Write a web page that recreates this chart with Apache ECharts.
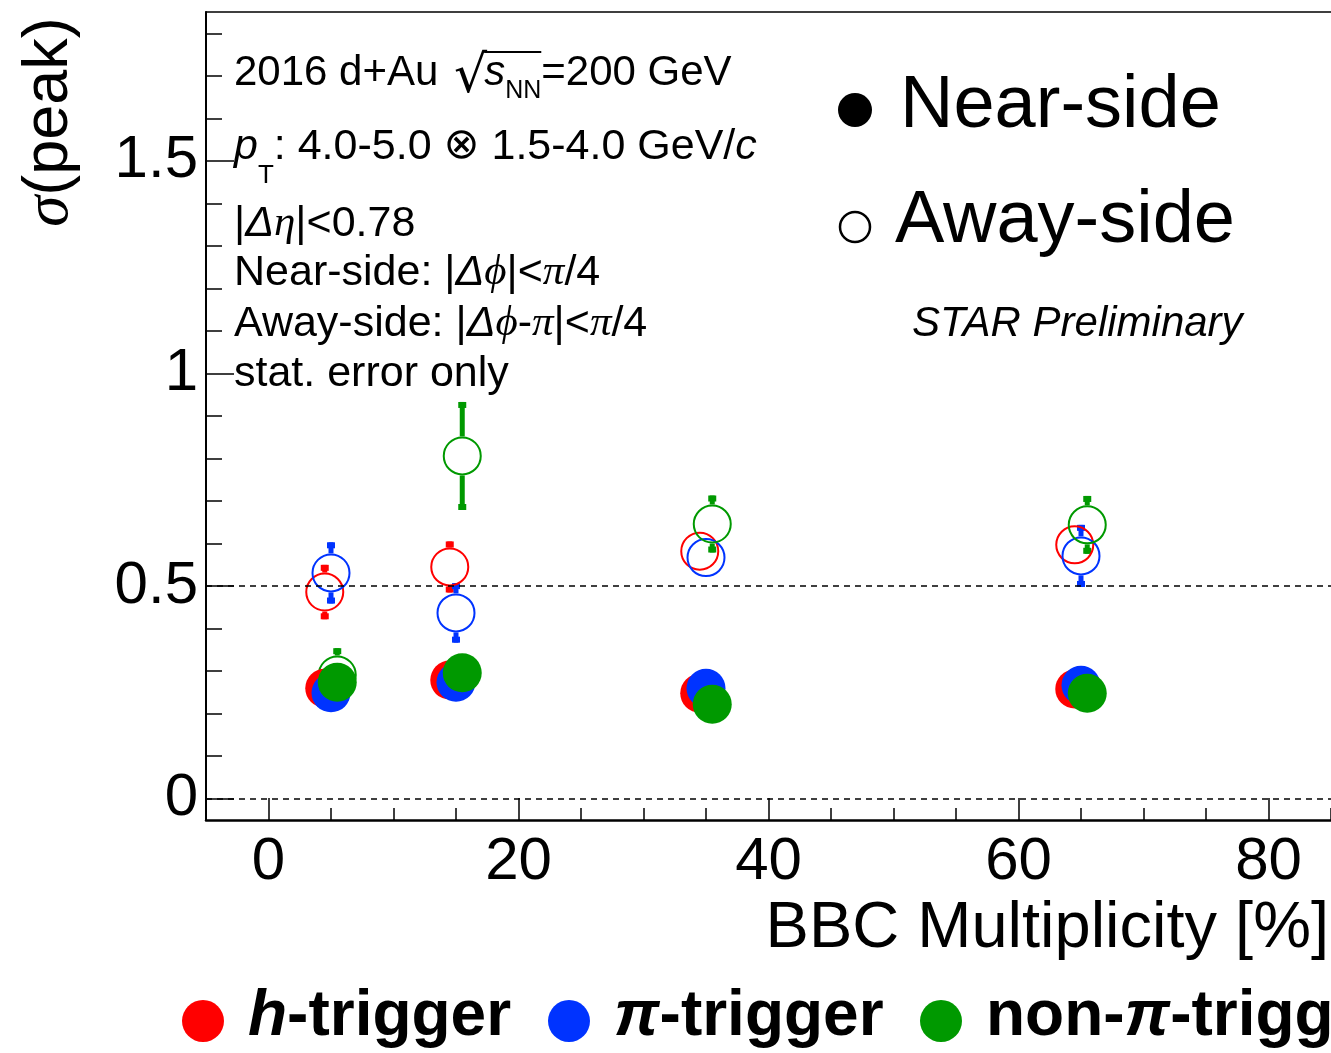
<!DOCTYPE html>
<html>
<head>
<meta charset="utf-8">
<title>σ(peak) vs BBC Multiplicity</title>
<script src="https://cdn.jsdelivr.net/npm/echarts@6/dist/echarts.min.js"></script>
<style>
  html, body { margin: 0; padding: 0; background: #ffffff; }
  #chart { width: 1331px; height: 1053px; }
</style>
</head>
<body>
<div id="chart"></div>
<script>
// ---- data -----------------------------------------------------------------
// BBC multiplicity bin centres (%), each trigger species nudged sideways
const hX     = [4.5, 14.5, 34.5, 64.5];
const piX    = [5.0, 15.0, 35.0, 65.0];
const nonPiX = [5.5, 15.5, 35.5, 65.5];

// Near-side peak width and stat. error
const hNear        = [0.260, 0.279, 0.248, 0.258];
const hNearErr     = [0.012, 0.012, 0.012, 0.012];
const piNear       = [0.249, 0.274, 0.260, 0.267];
const piNearErr    = [0.012, 0.012, 0.012, 0.012];
const nonPiNear    = [0.274, 0.296, 0.222, 0.248];
const nonPiNearErr = [0.015, 0.015, 0.015, 0.015];

// Away-side peak width and stat. error
const hAway        = [0.486, 0.545, 0.582, 0.597];
const hAwayErr     = [0.064, 0.060, 0.035, 0.035];
const piAway       = [0.531, 0.437, 0.567, 0.571];
const piAwayErr    = [0.072, 0.070, 0.035, 0.073];
const nonPiAway    = [0.291, 0.806, 0.646, 0.644];
const nonPiAwayErr = [0.063, 0.127, 0.067, 0.068];

// Axis ticks
const xMajorTicks = [0, 20, 40, 60, 80];
const xMinorTicks = [5, 10, 15, 25, 30, 35, 45, 50, 55, 65, 70, 75, 85];
const yMajorTicks = [0, 0.5, 1, 1.5];
const yMinorTicks = [0.1, 0.2, 0.3, 0.4, 0.6, 0.7, 0.8, 0.9, 1.1, 1.2, 1.3, 1.4, 1.6, 1.7, 1.8];
const refLines    = [0, 0.5];

// ---- styling --------------------------------------------------------------
const SANS  = '"Liberation Sans", Arial, Helvetica, sans-serif';
const SERIF = '"Liberation Serif", "DejaVu Serif", "Times New Roman", serif';
const SYM   = '"DejaVu Sans", "Liberation Sans", sans-serif';
const RED = '#ff0000', BLUE = '#0033ff', GREEN = '#009900';
const MARK = 39;            // marker diameter, px
const MARK_R = MARK / 2;

const species = [
  { x: hX,     near: hNear,     nearErr: hNearErr,     away: hAway,     awayErr: hAwayErr,     color: RED },
  { x: piX,    near: piNear,    nearErr: piNearErr,    away: piAway,    awayErr: piAwayErr,    color: BLUE },
  { x: nonPiX, near: nonPiNear, nearErr: nonPiNearErr, away: nonPiAway, awayErr: nonPiAwayErr, color: GREEN }
];

// vertical error bar drawn outside the marker, with small end caps
function errorBar(color) {
  return function (params, api) {
    const x = api.value(0), y = api.value(1), e = api.value(2);
    const c = api.coord([x, y]);
    const hi = api.coord([x, y + e]);
    const lo = api.coord([x, y - e]);
    const w = 5, capW = 8, capH = 6;
    const kids = [];
    if (c[1] - hi[1] > MARK_R) {
      kids.push({ type: 'rect', shape: { x: c[0] - w / 2, y: hi[1], width: w, height: c[1] - MARK_R - hi[1] }, style: { fill: color } });
      kids.push({ type: 'rect', shape: { x: c[0] - capW / 2, y: hi[1], width: capW, height: capH }, style: { fill: color } });
    }
    if (lo[1] - c[1] > MARK_R) {
      kids.push({ type: 'rect', shape: { x: c[0] - w / 2, y: c[1] + MARK_R, width: w, height: lo[1] - c[1] - MARK_R }, style: { fill: color } });
      kids.push({ type: 'rect', shape: { x: c[0] - capW / 2, y: lo[1] - capH, width: capW, height: capH }, style: { fill: color } });
    }
    return { type: 'group', children: kids };
  };
}

function rows(xs, ys, es) { return xs.map((x, i) => [x, ys[i], es[i]]); }

const series = [];
// away-side: open markers
species.forEach(s => {
  series.push({ type: 'custom', renderItem: errorBar(s.color), data: rows(s.x, s.away, s.awayErr), encode: { x: 0, y: 1 }, silent: true });
  series.push({ type: 'scatter', symbol: 'circle', symbolSize: MARK - 2, data: rows(s.x, s.away, s.awayErr),
    itemStyle: { color: 'rgba(0,0,0,0)', borderColor: s.color, borderWidth: 2, opacity: 1 }, silent: true });
});
// near-side: filled markers
species.forEach(s => {
  series.push({ type: 'custom', renderItem: errorBar(s.color), data: rows(s.x, s.near, s.nearErr), encode: { x: 0, y: 1 }, silent: true });
  series.push({ type: 'scatter', symbol: 'circle', symbolSize: MARK, data: rows(s.x, s.near, s.nearErr),
    itemStyle: { color: s.color, opacity: 1 }, silent: true });
});
// dashed reference lines
series[1].markLine = {
  silent: true, symbol: ['none', 'none'], label: { show: false },
  lineStyle: { color: '#000', type: [6, 5], width: 1.5 },
  data: refLines.map(v => ({ yAxis: v }))
};

// ---- text helpers ---------------------------------------------------------
const meas = document.createElement('canvas').getContext('2d');
// lays out a row of differently styled pieces on a common baseline
function textRun(x, baseline, parts) {
  const els = [], xs = [];
  let cx = x;
  parts.forEach(p => {
    const size = p.size, fam = p.family || SANS;
    const st = p.italic ? 'italic' : 'normal', wt = p.bold ? 'bold' : 'normal';
    meas.font = st + ' ' + wt + ' ' + size + 'px ' + fam;
    const w = meas.measureText(p.t).width;
    xs.push([cx, cx + w]);
    els.push({ type: 'text', x: cx, y: baseline + (p.dy || 0) - 0.35 * size, silent: true,
      style: { text: p.t, fontSize: size, fontFamily: fam, fontStyle: st, fontWeight: wt, fill: p.fill || '#000', align: 'left', verticalAlign: 'middle' } });
    cx += w + (p.gap || 0);
  });
  return { els, xs };
}

const F = 43;
const graphics = [];

const l1 = textRun(234, 88, [
  { t: '2016 d+Au ', size: 42, gap: 4 },
  { t: '√', size: 52, family: SYM, dy: 9, gap: -3 },
  { t: 's', size: 42, italic: true },
  { t: 'NN', size: 25, dy: 12 },
  { t: '=200 GeV', size: 42 }
]);
graphics.push(...l1.els);
graphics.push({ type: 'line', silent: true, shape: { x1: l1.xs[1][1] - 3, y1: 52, x2: l1.xs[3][1], y2: 52 }, style: { stroke: '#000', lineWidth: 2 } });

graphics.push(...textRun(234, 162, [
  { t: 'p', size: F, italic: true },
  { t: 'T', size: 26, dy: 23 },
  { t: ': 4.0-5.0 ', size: F },
  { t: '⊗', size: F, family: SYM },
  { t: ' 1.5-4.0 GeV/', size: F },
  { t: 'c', size: F, italic: true }
]).els);

graphics.push(...textRun(234, 239, [
  { t: '|', size: F },
  { t: 'Δ', size: F, italic: true },
  { t: 'η', size: F, italic: true, family: SERIF },
  { t: '|<0.78', size: F }
]).els);

graphics.push(...textRun(234, 288, [
  { t: 'Near-side: |', size: F },
  { t: 'Δ', size: F, italic: true },
  { t: 'ϕ', size: F, italic: true, family: SERIF },
  { t: '|<', size: F },
  { t: 'π', size: F, italic: true, family: SERIF },
  { t: '/4', size: F }
]).els);

graphics.push(...textRun(234, 339, [
  { t: 'Away-side: |', size: F },
  { t: 'Δ', size: F, italic: true },
  { t: 'ϕ', size: F, italic: true, family: SERIF },
  { t: '-', size: F },
  { t: 'π', size: F, italic: true, family: SERIF },
  { t: '|<', size: F },
  { t: 'π', size: F, italic: true, family: SERIF },
  { t: '/4', size: F }
]).els);

graphics.push(...textRun(234, 389, [{ t: 'stat. error only', size: F }]).els);

// side legend
graphics.push({ type: 'circle', silent: true, shape: { cx: 855, cy: 110, r: 17 }, style: { fill: '#000' } });
graphics.push({ type: 'circle', silent: true, shape: { cx: 855, cy: 227, r: 15 }, style: { fill: 'none', stroke: '#000', lineWidth: 2.5 } });
graphics.push(...textRun(900, 132, [{ t: 'Near-side', size: 74 }]).els);
graphics.push(...textRun(895, 247, [{ t: 'Away-side', size: 74 }]).els);
graphics.push(...textRun(912, 339, [{ t: 'STAR Preliminary', size: 42, italic: true }]).els);

// trigger legend
const LG = 64;
[[203, RED, [{ t: 'h', italic: true }, { t: '-trigger' }]],
 [569, BLUE, [{ t: 'π', italic: true }, { t: '-trigger' }]],
 [941, GREEN, [{ t: 'non-' }, { t: 'π', italic: true }, { t: '-trigger' }]]
].forEach(([cx, col, parts]) => {
  graphics.push({ type: 'circle', silent: true, shape: { cx: cx, cy: 1021, r: 21 }, style: { fill: col } });
  graphics.push(...textRun(cx + 45, 1040, parts.map(p => Object.assign({ size: LG, bold: true }, p))).els);
});

// axis titles
graphics.push({ type: 'text', silent: true, x: 1329, y: 952 - 0.35 * 65,
  style: { text: 'BBC Multiplicity [%]', fontSize: 65, fontFamily: SANS, fill: '#000', align: 'right', verticalAlign: 'middle' } });
graphics.push({ type: 'text', silent: true, x: 50, y: 122, rotation: Math.PI / 2,
  style: { text: '{g|σ}(peak)', fontSize: 63, fontFamily: SANS, fill: '#000', align: 'center', verticalAlign: 'middle',
    rich: { g: { fontSize: 63, fontFamily: SERIF, fontStyle: 'italic' } } } });

// ---- chart ----------------------------------------------------------------
const chart = echarts.init(document.getElementById('chart'), null, { renderer: 'canvas' });
const X_MIN = -5, X_MAX = 85, Y_MIN = -0.05, Y_MAX = 1.85;

chart.setOption({
  animation: false,
  backgroundColor: '#ffffff',
  grid: { left: 206, right: 0, top: 12, bottom: 233, containLabel: false },
  xAxis: [
    { type: 'value', min: X_MIN, max: X_MAX, position: 'bottom',
      axisLine: { show: true, onZero: false, lineStyle: { color: '#000', width: 2.5 } },
      axisTick: { show: true, inside: true, length: 22, customValues: xMajorTicks, lineStyle: { color: '#000', width: 1.5 } },
      axisLabel: { show: true, customValues: xMajorTicks, fontSize: 60, fontFamily: SANS, color: '#000', margin: 12 },
      splitLine: { show: false } },
    { type: 'value', min: X_MIN, max: X_MAX, position: 'bottom',
      axisLine: { show: false, onZero: false },
      axisTick: { show: true, inside: true, length: 12, customValues: xMinorTicks, lineStyle: { color: '#000', width: 1.5 } },
      axisLabel: { show: false }, splitLine: { show: false } },
    { type: 'value', min: X_MIN, max: X_MAX, position: 'top',
      axisLine: { show: true, onZero: false, lineStyle: { color: '#000', width: 1.5 } },
      axisTick: { show: false }, axisLabel: { show: false }, splitLine: { show: false } }
  ],
  yAxis: [
    { type: 'value', min: Y_MIN, max: Y_MAX, position: 'left',
      axisLine: { show: true, onZero: false, lineStyle: { color: '#000', width: 2 } },
      axisTick: { show: true, inside: true, length: 28, customValues: yMajorTicks, lineStyle: { color: '#000', width: 1.5 } },
      axisLabel: { show: true, customValues: yMajorTicks, fontSize: 60, fontFamily: SANS, color: '#000', margin: 8,
        formatter: v => String(v) },
      splitLine: { show: false } },
    { type: 'value', min: Y_MIN, max: Y_MAX, position: 'left',
      axisLine: { show: false, onZero: false },
      axisTick: { show: true, inside: true, length: 16, customValues: yMinorTicks, lineStyle: { color: '#000', width: 1.5 } },
      axisLabel: { show: false }, splitLine: { show: false } }
  ],
  series: series,
  graphic: graphics
});
</script>
</body>
</html>
